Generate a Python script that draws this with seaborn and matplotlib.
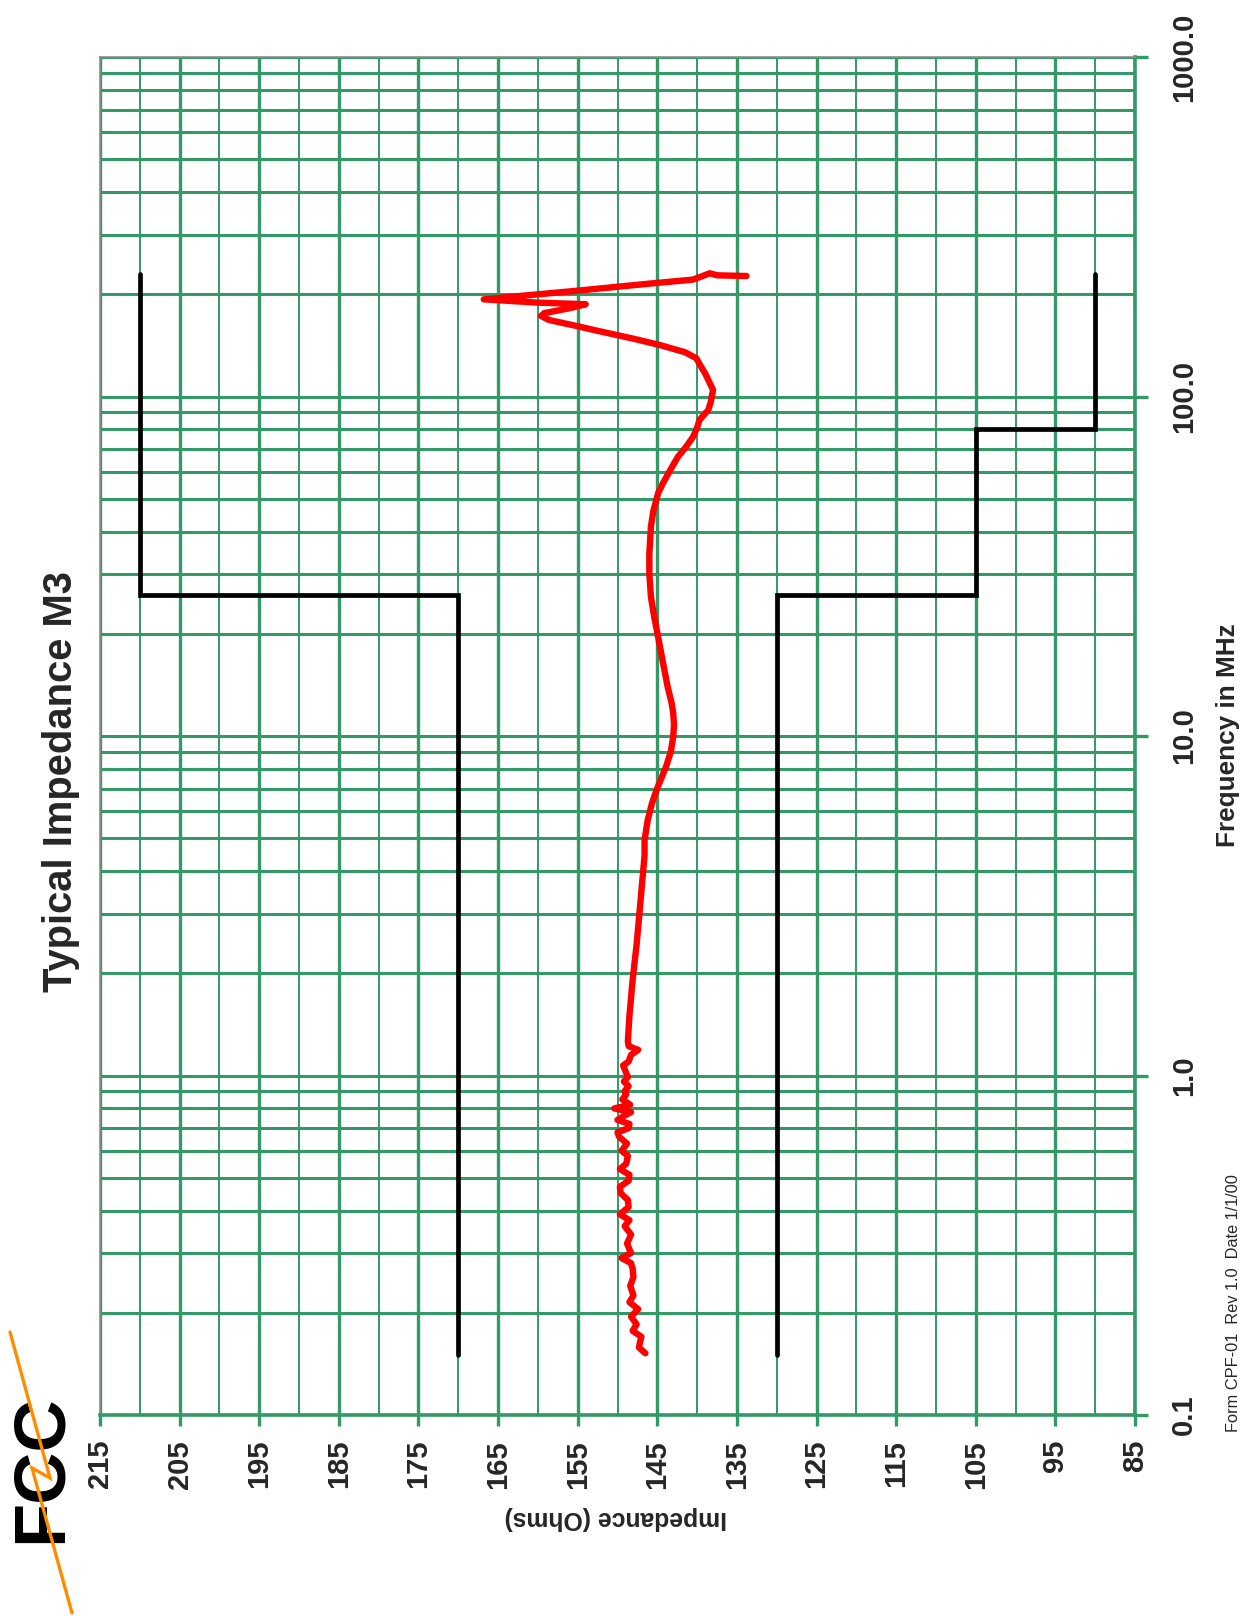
import numpy as np
import pandas as pd
import matplotlib
matplotlib.use("Agg")
import matplotlib.pyplot as plt
import seaborn as sns
from matplotlib.ticker import FixedLocator, NullFormatter, FixedFormatter
from matplotlib.lines import Line2D

# ---------------- data ----------------
freq_mhz = [
    0.152, 0.158, 0.163, 0.170, 0.177, 0.185, 0.195, 0.205, 0.215, 0.225,
    0.240, 0.255, 0.270, 0.280, 0.290, 0.300, 0.320, 0.340, 0.360, 0.375,
    0.390, 0.410, 0.430, 0.450, 0.470, 0.490, 0.510, 0.530, 0.550, 0.580,
    0.600, 0.630, 0.660, 0.680, 0.700, 0.720, 0.740, 0.760, 0.780, 0.800,
    0.820, 0.850, 0.880, 0.900, 0.930, 0.960, 0.990, 1.03, 1.07, 1.10,
    1.15, 1.19, 1.22, 1.26, 1.50, 1.91, 2.43, 3.09, 4.45, 4.94,
    5.66, 6.30, 6.93, 8.12, 9.00, 9.95, 10.8, 11.66, 12.5, 13.96,
    16.5, 19.6, 22.5, 25.7, 30.0, 34.5, 41.4, 46.0, 51.9, 55.5,
    60.0, 66.5, 71.0, 76.1, 81.0, 85.3, 88.0, 91.2, 96.0, 104.5,
    112.0, 117.0, 122.4, 129.6, 135.0, 141.8, 148.0, 155.0, 162.0, 168.0,
    172.6, 176.0, 182.0, 187.0, 189.0, 193.3, 205.0, 215.0, 221.0, 230.7,
    227.5, 226.4,
]
impedance_ohms = [
    146.5, 147.3, 147.2, 147.0, 148.1, 147.6, 148.3, 147.4, 148.5, 148.0,
    148.4, 148.0, 148.1, 148.3, 149.5, 148.3, 148.8, 148.3, 149.1, 148.5,
    149.7, 148.6, 148.7, 149.6, 149.7, 148.6, 148.5, 149.7, 148.9, 148.7,
    149.5, 148.8, 149.8, 150.0, 148.6, 148.5, 150.0, 149.2, 148.3, 150.4,
    148.4, 149.4, 148.9, 149.1, 148.6, 149.2, 148.7, 149.0, 149.3, 148.6,
    148.3, 147.4, 148.6, 148.7, 148.5, 148.1, 147.6, 147.2, 146.6, 146.6,
    146.2, 145.7, 145.1, 143.9, 143.3, 143.0, 142.9, 143.0, 143.2, 143.7,
    144.3, 144.9, 145.4, 145.8, 146.0, 146.0, 145.8, 145.5, 144.9, 144.3,
    143.5, 142.4, 141.4, 140.5, 140.0, 139.7, 139.2, 138.6, 138.3, 138.0,
    138.6, 139.0, 139.5, 140.1, 141.5, 144.7, 148.0, 151.9, 155.5, 158.6,
    159.6, 159.2, 156.0, 154.0, 160.0, 166.8, 155.0, 146.0, 140.5, 138.4,
    137.5, 133.8,
]

upper_freq = [0.15, 26.0, 26.0, 230.0]
upper_ohms = [170, 170, 210, 210]
lower_freq = [0.15, 26.0, 26.0, 80.0, 80.0, 230.0]
lower_ohms = [130, 130, 105, 105, 90, 90]

imp_major = [215, 205, 195, 185, 175, 165, 155, 145, 135, 125, 115, 105, 95, 85]
imp_minor = [210, 200, 190, 180, 170, 160, 150, 140, 130, 120, 110, 100, 90]
freq_major = [0.1, 1.0, 10.0, 100.0, 1000.0]
freq_labels = ["0.1", "1.0", "10.0", "100.0", "1000.0"]
freq_minor = [m * d for d in [0.1, 1.0, 10.0, 100.0] for m in range(2, 10)]

title = "Typical Impedance M3"
xlab = "Impedance (Ohms)"
ylab = "Frequency in MHz"
footer = "Form CPF-01  Rev 1.0  Date 1/1/00"

GREEN = "#339966"

# ---------------- style ----------------
sns.set_theme(style="white")
plt.rcParams["font.family"] = ["Liberation Sans", "DejaVu Sans"]

W, H = 1259, 1616
fig = plt.figure(figsize=(W / 100, H / 100), dpi=100)
fig.patch.set_facecolor("white")
ax = fig.add_axes([100 / W, 201 / H, 1035 / W, 1358 / H])
ax.set_facecolor("white")

df_meas = pd.DataFrame({"ohms": impedance_ohms, "mhz": freq_mhz})
df_up = pd.DataFrame({"ohms": upper_ohms, "mhz": upper_freq})
df_lo = pd.DataFrame({"ohms": lower_ohms, "mhz": lower_freq})

ax.set_yscale("log")
for d in (df_up, df_lo):
    sns.lineplot(data=d, x="ohms", y="mhz", sort=False, estimator=None,
                 color="black", linewidth=3.4, ax=ax,
                 solid_capstyle="round", solid_joinstyle="miter", zorder=3)
sns.lineplot(data=df_meas, x="ohms", y="mhz", sort=False, estimator=None,
             color="#ff0000", linewidth=4.6, ax=ax,
             solid_capstyle="round", solid_joinstyle="round", zorder=4)

ax.set_xlim(215, 85)
ax.set_ylim(0.1, 1000)
ax.set_xlabel("")
ax.set_ylabel("")

ax.xaxis.set_major_locator(FixedLocator(imp_major))
ax.xaxis.set_minor_locator(FixedLocator(imp_minor))
ax.xaxis.set_major_formatter(FixedFormatter([str(v) for v in imp_major]))
ax.xaxis.set_minor_formatter(NullFormatter())
ax.yaxis.set_major_locator(FixedLocator(freq_major))
ax.yaxis.set_major_formatter(FixedFormatter(freq_labels))
ax.yaxis.set_minor_locator(FixedLocator(freq_minor))
ax.yaxis.set_minor_formatter(NullFormatter())

ax.set_axisbelow(True)
ax.grid(which="major", axis="x", color=GREEN, linewidth=2.4)
ax.grid(which="minor", axis="x", color=GREEN, linewidth=1.4)
ax.grid(which="both", axis="y", color=GREEN, linewidth=2.2)

ax.tick_params(axis="x", which="major", bottom=True, top=False, length=8,
               width=2.4, color=GREEN, pad=10, labelsize=21,
               labelrotation=90)
ax.tick_params(axis="x", which="minor", bottom=False, top=False, length=0)
ax.tick_params(axis="y", which="major", left=False, right=True,
               labelleft=False, labelright=True, length=9, width=2.4,
               color=GREEN, pad=16, labelsize=21, labelrotation=90)
ax.tick_params(axis="y", which="minor", left=False, right=False, length=0)
for lab in ax.get_xticklabels() + ax.get_yticklabels():
    lab.set_fontweight("bold")
for lab in ax.get_yticklabels():
    lab.set_verticalalignment("center")

for side in ("top", "left"):
    ax.spines[side].set_color("#8c8c8c")
    ax.spines[side].set_linewidth(1.2)
for side in ("bottom", "right"):
    ax.spines[side].set_color(GREEN)
    ax.spines[side].set_linewidth(2.6)

# ---------------- text ----------------
def fx(px):
    return px / W

def fy(py):
    return 1 - py / H

fig.text(fx(61), fy(782), title, rotation=90, ha="center", va="center",
         fontsize=28.8, fontweight="bold")
fig.text(fx(1228), fy(735), ylab, rotation=90, ha="center", va="center",
         fontsize=18.8, fontweight="bold")
fig.text(fx(616), fy(1518), xlab, rotation=180, ha="center", va="center",
         fontsize=17.8, fontweight="bold")
fig.text(fx(1234), fy(1303), footer, rotation=90, ha="center", va="center",
         fontsize=11.8)

# FCC logo
fig.text(fx(42), fy(1469), "FCC", rotation=90, ha="center", va="center",
         fontsize=52, fontweight="heavy", color="black")
bolt_x = [fx(10), fx(50), fx(32), fx(72)]
bolt_y = [fy(1332), fy(1478), fy(1468), fy(1613)]
fig.add_artist(Line2D(bolt_x, bolt_y, color="#ff8c00", linewidth=2.4,
                      solid_joinstyle="miter", zorder=10))

fig.savefig("out.png", dpi=100, facecolor="white")
